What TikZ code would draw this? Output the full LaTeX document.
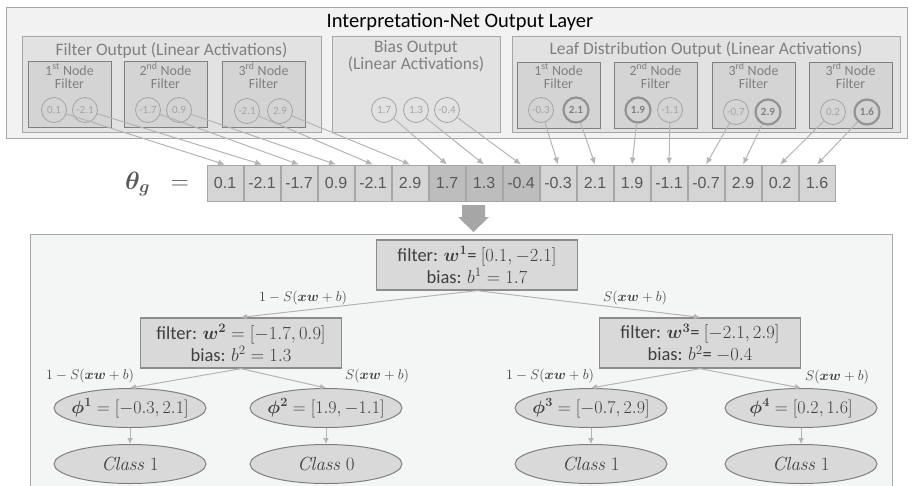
\documentclass[tikz,border=0pt]{standalone}
\usepackage{fix-cm}
\usepackage{amsmath,amssymb}
\usepackage[no-math]{fontspec}
\setmainfont{Carlito}
\newfontfamily\cellfont{Liberation Sans}
\usepackage{xcolor}
\usepackage{tikz}
\usetikzlibrary{positioning, arrows.meta, shapes.geometric}

\definecolor{layerbg}{HTML}{F2F2F2}
\definecolor{groupbg}{HTML}{E2E2E2}
\definecolor{filterbg}{HTML}{D4D4D4}
\definecolor{rimgray}{HTML}{A6A6A6}
\definecolor{edgegray}{HTML}{7F7F7F}
\definecolor{labelgray}{HTML}{808080}
\definecolor{unitgray}{HTML}{A3A3A3}
\definecolor{cellbg}{HTML}{D5D5D5}
\definecolor{biasbg}{HTML}{BDBDBD}
\definecolor{cellink}{HTML}{595959}
\definecolor{treebg}{HTML}{F4F6F6}
\definecolor{splitbg}{HTML}{D9D9D9}
\definecolor{treeink}{HTML}{3F3F3F}
\definecolor{wiregray}{HTML}{B4B4B4}

% keeps wide text from stretching an ellipse
\newcommand{\nowide}[1]{\makebox[0pt]{#1}}

\begin{document}
\begin{tikzpicture}[
    x=1pt, y=1pt,
    >=Latex,
    layerbox/.style={
        rectangle, draw=rimgray, fill=layerbg, line width=1.3pt,
        inner sep=0pt, anchor=north west
    },
    groupbox/.style={
        rectangle, draw=rimgray, fill=groupbg, line width=1.1pt,
        inner sep=0pt, anchor=north west, minimum height=96pt
    },
    grouptitle/.style={font=\fontsize{17.5}{15}\selectfont, text=labelgray, align=center, anchor=base},
    filterbox/.style={
        rectangle, draw=edgegray, fill=filterbg, line width=1.3pt,
        anchor=north west, minimum width=83pt, minimum height=66pt, inner sep=0pt
    },
    filtertitle/.style={font=\fontsize{14}{13}\selectfont, text=labelgray, align=center, anchor=base, inner sep=0pt},
    unit/.style={
        circle, draw=unitgray, line width=0.8pt,
        minimum size=25pt, inner sep=0pt,
        text=unitgray, font=\fontsize{11}{12}\selectfont
    },
    pick/.style={unit, draw=edgegray!85, line width=2.2pt, text=edgegray, font=\fontsize{11}{12}\selectfont\bfseries},
    cell/.style={
        rectangle, draw=rimgray, fill=cellbg, line width=0.9pt,
        minimum width=36.1pt, minimum height=36pt, inner sep=0pt,
        text=cellink, font=\cellfont\fontsize{16}{18}\selectfont
    },
    biascell/.style={cell, fill=biasbg},
    feed/.style={-{Latex[length=7pt, width=6pt]}, draw=wiregray, line width=1pt},
    treearea/.style={rectangle, draw=rimgray, fill=treebg, line width=1.3pt, anchor=north west},
    split/.style={
        rectangle, draw=edgegray!90, fill=splitbg, line width=1.3pt,
        minimum width=201pt, minimum height=50pt, inner sep=0pt,
        align=center, text=treeink, font=\fontsize{18.5}{22}\selectfont
    },
    leaf/.style={
        ellipse, draw=edgegray, fill=splitbg, line width=1pt,
        minimum width=152pt, minimum height=39pt, inner sep=0pt,
        text=treeink, font=\fontsize{18}{20}\selectfont
    },
    branch/.style={-{Latex[length=6pt, width=6pt]}, draw=wiregray, line width=1pt},
    prob/.style={text=treeink, font=\fontsize{14}{16}\selectfont},
]
\useasboundingbox (0,0) rectangle (912,-485);
\clip (0,0) rectangle (912,-485);

% ---------- Output layer ----------
\node[layerbox, minimum width=901pt, minimum height=131pt] (layer) at (6,-7) {};
\node[font=\fontsize{20.5}{22}\selectfont, anchor=base, inner sep=0pt] (layertitle) at (460,-27) {Interpretation-Net Output Layer};

% ---------- Filter outputs ----------
\node[groupbox, minimum width=299pt] (filterout) at (22,-36) {};
\node[grouptitle] at (171.5,-55) {Filter Output (Linear Activations)};

\node[filterbox] (fb1) at (28,-61) {};
\node[filterbox] (fb2) at (124,-61) {};
\node[filterbox] (fb3) at (222,-61) {};
\node[filtertitle] at (69.5,-88) {1\textsuperscript{st} Node\\Filter};
\node[filtertitle] at (165.5,-88) {2\textsuperscript{nd} Node\\Filter};
\node[filtertitle] at (263.5,-88) {3\textsuperscript{rd} Node\\Filter};

\node[unit] (f1a) at (54,-110) {0.1};
\node[unit] (f1b) at (85,-110) {-2.1};
\node[unit] (f2a) at (148,-110) {-1.7};
\node[unit] (f2b) at (179,-110) {0.9};
\node[unit] (f3a) at (247,-111) {-2.1};
\node[unit] (f3b) at (280,-111) {2.9};

% ---------- Bias outputs ----------
\node[groupbox, minimum width=168pt] (biasout) at (332,-36) {};
\node[grouptitle] at (416,-69) {Bias Output\\(Linear Activations)};

\node[unit] (b1) at (384,-110) {1.7};
\node[unit] (b2) at (416,-110) {1.3};
\node[unit] (b3) at (447,-110) {-0.4};

% ---------- Leaf distribution outputs ----------
\node[groupbox, minimum width=388pt] (leafout) at (512,-36) {};
\node[grouptitle] at (706,-54) {Leaf Distribution Output (Linear Activations)};

\node[filterbox] (lb1) at (517,-62) {};
\node[filterbox] (lb2) at (614,-62) {};
\node[filterbox] (lb3) at (712,-62) {};
\node[filterbox] (lb4) at (809,-62) {};
\node[filtertitle] at (558.5,-88) {1\textsuperscript{st} Node\\Filter};
\node[filtertitle] at (655.5,-88) {2\textsuperscript{nd} Node\\Filter};
\node[filtertitle] at (753.5,-88) {3\textsuperscript{rd} Node\\Filter};
\node[filtertitle] at (850.5,-88) {3\textsuperscript{rd} Node\\Filter};

\node[unit] (l1a) at (541,-110) {-0.3};
\node[pick] (l1b) at (576,-110) {2.1};
\node[pick] (l2a) at (638,-110) {1.9};
\node[unit] (l2b) at (670,-110) {-1.1};
\node[unit] (l3a) at (736,-112) {-0.7};
\node[pick] (l3b) at (768,-112) {2.9};
\node[unit] (l4a) at (833,-112) {0.2};
\node[pick] (l4b) at (867,-112) {1.6};

% ---------- Parameter vector ----------
\node[font=\fontsize{25}{27}\selectfont, text=cellink, anchor=east, inner sep=0pt] (theta) at (189,-184) {$\boldsymbol{\theta_g}\;\;=$};

\node[cell] (c1) at (225.05,-183) {0.1};
\node[cell, right=0pt of c1] (c2) {-2.1};
\node[cell, right=0pt of c2] (c3) {-1.7};
\node[cell, right=0pt of c3] (c4) {0.9};
\node[cell, right=0pt of c4] (c5) {-2.1};
\node[cell, right=0pt of c5] (c6) {2.9};
\node[biascell, right=0pt of c6] (c7) {1.7};
\node[biascell, right=0pt of c7] (c8) {1.3};
\node[biascell, right=0pt of c8] (c9) {-0.4};
\node[cell, right=0pt of c9] (c10) {-0.3};
\node[cell, right=0pt of c10] (c11) {2.1};
\node[cell, right=0pt of c11] (c12) {1.9};
\node[cell, right=0pt of c12] (c13) {-1.1};
\node[cell, right=0pt of c13] (c14) {-0.7};
\node[cell, right=0pt of c14] (c15) {2.9};
\node[cell, right=0pt of c15] (c16) {0.2};
\node[cell, right=0pt of c16] (c17) {1.6};

% ---------- Outputs into the vector ----------
\draw[feed] (f1a) -- (c1.north);
\draw[feed] (f1b) -- (c2.north);
\draw[feed] (f2a) -- (c3.north);
\draw[feed] (f2b) -- (c4.north);
\draw[feed] (f3a) -- (c5.north);
\draw[feed] (f3b) -- (c6.north);
\draw[feed] (b1) -- (c7.north);
\draw[feed] (b2) -- (c8.north);
\draw[feed] (b3) -- (c9.north);
\draw[feed] (l1a) -- (c10.north);
\draw[feed] (l1b) -- (c11.north);
\draw[feed] (l2a) -- (c12.north);
\draw[feed] (l2b) -- (c13.north);
\draw[feed] (l3a) -- (c14.north);
\draw[feed] (l3b) -- (c15.north);
\draw[feed] (l4a) -- (c16.north);
\draw[feed] (l4b) -- (c17.north);

% ---------- Block arrow down to the tree ----------
\coordinate (drop) at (473.5,-205);
\fill[rimgray] ([xshift=-11.5pt]drop) -- ([xshift=11.5pt]drop)
    -- ([xshift=11.5pt, yshift=-12pt]drop) -- ([xshift=15.5pt, yshift=-12pt]drop)
    -- ([yshift=-27pt]drop) -- ([xshift=-15.5pt, yshift=-12pt]drop)
    -- ([xshift=-11.5pt, yshift=-12pt]drop) -- cycle;

% ---------- Decision tree ----------
\node[treearea, minimum width=862pt, minimum height=270pt] (tree) at (30,-234) {};

\node[split] (root) at (477,-265) {%
    filter: $\boldsymbol{w}^{\mathbf{1}}$= $[0.1, -2.1]$\\%
    bias: $b^{1} = 1.7$
};
\node[split] (n2) at (241,-343) {%
    filter: $\boldsymbol{w}^{\mathbf{2}} = [-1.7, 0.9]$\\%
    bias: $b^{2} = 1.3$
};
\node[split] (n3) at (700,-343) {%
    filter: $\boldsymbol{w}^{\mathbf{3}}$= $[-2.1, 2.9]$\\%
    bias: $b^{2}$= $-0.4$
};

\node[leaf] (phi1) at (130,-408) {\nowide{$\boldsymbol{\phi}^{\mathbf{1}} = [-0.3, 2.1]$}};
\node[leaf] (phi2) at (326,-408) {\nowide{$\boldsymbol{\phi}^{\mathbf{2}} = [1.9, -1.1]$}};
\node[leaf] (phi3) at (591,-408) {\nowide{$\boldsymbol{\phi}^{\mathbf{3}} = [-0.7, 2.9]$}};
\node[leaf] (phi4) at (801,-408) {\nowide{$\boldsymbol{\phi}^{\mathbf{4}} = [0.2, 1.6]$}};

\node[leaf, font=\fontsize{19}{20}\selectfont] (cls1) at (130,-464) {$\mathit{Class}\ 1$};
\node[leaf, font=\fontsize{19}{20}\selectfont] (cls2) at (326,-464) {$\mathit{Class}\ 0$};
\node[leaf, font=\fontsize{19}{20}\selectfont] (cls3) at (591,-464) {$\mathit{Class}\ 1$};
\node[leaf, font=\fontsize{19}{20}\selectfont] (cls4) at (801,-464) {$\mathit{Class}\ 1$};

% branch probabilities
\node[prob] (p1) at (303,-298) {$1 - S(\boldsymbol{xw} + b)$};
\node[prob] (p2) at (635,-298) {$S(\boldsymbol{xw} + b)$};
\node[prob] (p3) at (90,-376) {$1 - S(\boldsymbol{xw} + b)$};
\node[prob] (p4) at (377,-376) {$S(\boldsymbol{xw} + b)$};
\node[prob] (p5) at (550,-376) {$1 - S(\boldsymbol{xw} + b)$};
\node[prob] (p6) at (837,-377) {$S(\boldsymbol{xw} + b)$};

% ---------- Tree edges ----------
\draw[branch] (root.south) -- (n2.north);
\draw[branch] (root.south) -- (n3.north);
\draw[branch] (n2.south) -- (phi1.north);
\draw[branch] (n2.south) -- (phi2.north);
\draw[branch] (n3.south) -- (phi3.north);
\draw[branch] (n3.south) -- (phi4.north);
\draw[branch] (phi1) -- (cls1);
\draw[branch] (phi2) -- (cls2);
\draw[branch] (phi3) -- (cls3);
\draw[branch] (phi4) -- (cls4);

\end{tikzpicture}
\end{document}
